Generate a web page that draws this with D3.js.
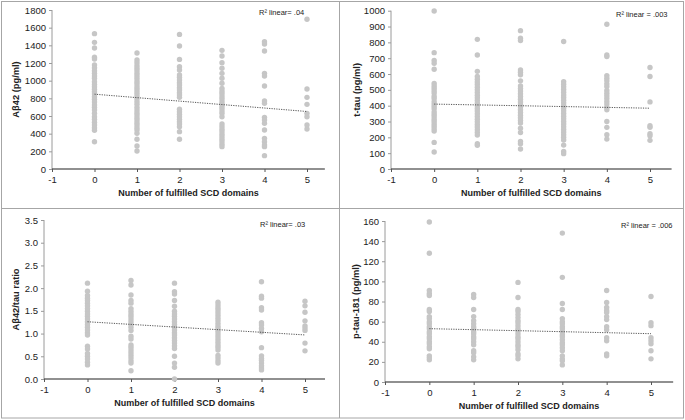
<!DOCTYPE html>
<html>
<head>
<meta charset="utf-8">
<script src="https://cdn.jsdelivr.net/npm/d3@7"></script>
<style>
  html, body { margin: 0; padding: 0; background: #fff; }
  svg { display: block; }
  text { font-family: "Liberation Sans", Arial, Helvetica, sans-serif; }
</style>
</head>
<body>
<svg id="chart" width="685" height="420"></svg>
<script>
// ---------------- DATA ----------------
const categories = [0, 1, 2, 3, 4, 5];
const xTicks = [-1, 0, 1, 2, 3, 4, 5];
const xLabel = "Number of fulfilled SCD domains";

const ab42 = [
  [1532, 1434, 1370, 1265, 1245, 1177, 1145, 1113, 1083, 1053, 1027, 988, 958, 932, 902, 875, 849, 819, 789, 758, 725, 698, 668, 630, 592, 562, 528, 498, 468, 438, 309],
  [1313, 1234, 1204, 1170, 1140, 1113, 1083, 1056, 1027, 996, 970, 940, 913, 887, 857, 826, 796, 762, 732, 698, 668, 638, 611, 581, 555, 524, 498, 468, 442, 404, 336, 260, 204],
  [1524, 1392, 1241, 1158, 1121, 1064, 1038, 1008, 977, 951, 920, 894, 864, 838, 811, 676, 649, 619, 592, 562, 536, 509, 479, 423, 336],
  [1343, 1279, 1204, 1140, 1083, 1027, 970, 913, 883, 857, 826, 800, 770, 743, 713, 687, 657, 630, 592, 509, 479, 449, 423, 392, 366, 336, 309, 279, 253],
  [1441, 1415, 1336, 1083, 1053, 940, 770, 743, 585, 555, 517, 442, 347, 309, 272, 253, 151],
  [1695, 906, 811, 732, 630, 592, 498, 453]
];
const ttau = [
  [998, 735, 685, 668, 630, 540, 525, 510, 495, 480, 460, 445, 425, 410, 395, 380, 360, 345, 330, 315, 300, 285, 270, 255, 240, 168, 107],
  [819, 720, 617, 584, 567, 550, 534, 517, 500, 483, 466, 450, 433, 416, 399, 382, 366, 349, 332, 315, 298, 281, 265, 248, 231, 214, 160, 150],
  [874, 826, 811, 626, 611, 595, 557, 525, 508, 492, 475, 458, 441, 424, 408, 391, 374, 357, 340, 324, 307, 290, 258, 231, 174, 160, 126],
  [805, 552, 536, 519, 502, 485, 468, 452, 435, 418, 401, 384, 368, 351, 334, 317, 300, 284, 267, 250, 233, 216, 200, 183, 151, 111, 97],
  [914, 720, 710, 590, 574, 557, 538, 521, 496, 479, 462, 445, 426, 410, 391, 374, 300, 263, 216, 189],
  [641, 584, 424, 273, 263, 223, 210, 181]
];
const ratio = [
  [2.11, 1.93, 1.84, 1.78, 1.73, 1.67, 1.61, 1.55, 1.49, 1.43, 1.38, 1.32, 1.26, 1.20, 1.14, 1.08, 1.02, 0.97, 0.72, 0.66, 0.56, 0.50, 0.44, 0.37, 0.31],
  [2.17, 2.07, 1.85, 1.73, 1.67, 1.55, 1.49, 1.43, 1.38, 1.32, 1.26, 1.20, 1.14, 1.07, 0.94, 0.88, 0.75, 0.70, 0.64, 0.58, 0.52, 0.46, 0.40, 0.35, 0.18],
  [2.11, 1.92, 1.87, 1.73, 1.60, 1.49, 1.43, 1.38, 1.32, 1.26, 1.20, 1.14, 1.08, 1.02, 0.97, 0.91, 0.85, 0.79, 0.73, 0.67, 0.50, 0.35, 0.26, 0.00],
  [1.69, 1.63, 1.57, 1.52, 1.46, 1.40, 1.34, 1.28, 1.22, 1.16, 1.11, 1.05, 0.99, 0.93, 0.87, 0.81, 0.75, 0.70, 0.64, 0.52, 0.46, 0.40, 0.35],
  [2.14, 1.82, 1.78, 1.57, 1.52, 1.24, 1.19, 1.11, 1.04, 0.69, 0.51, 0.45, 0.41, 0.35, 0.29, 0.24, 0.20],
  [1.71, 1.61, 1.47, 1.28, 1.17, 1.12, 1.07, 0.79, 0.62]
];
const ptau = [
  [159, 128, 91, 88, 86, 72, 70, 65, 63, 60, 58, 55, 53, 50, 48, 45, 43, 40, 38, 35, 33, 26, 24, 22],
  [87, 84, 72, 65, 61, 58, 55, 53, 50, 48, 45, 43, 40, 37, 31, 29, 25, 22],
  [99, 84, 72, 70, 67, 64, 61, 59, 56, 53, 51, 48, 45, 43, 40, 37, 35, 32, 28, 26, 23],
  [148, 104, 78, 72, 63, 60, 58, 55, 53, 50, 47, 45, 42, 39, 37, 34, 31, 26, 23, 21, 17],
  [91, 79, 74, 71, 69, 65, 62, 55, 52, 44, 41, 28, 26],
  [85, 59, 56, 44, 41, 38, 31, 23]
];

// fit line values at x = 0 and x = 5
const trendAb42 = [847, 651];
const trendTtau = [410, 384];
const trendRatio = [1.26, 0.97];
const trendPtau = [53, 48];

const yTicksAb42 = [0, 200, 400, 600, 800, 1000, 1200, 1400, 1600, 1800];
const yTicksTtau = [0, 100, 200, 300, 400, 500, 600, 700, 800, 900, 1000];
const yTicksRatio = [0, 0.5, 1.0, 1.5, 2.0, 2.5, 3.0, 3.5];
const yTicksPtau = [0, 20, 40, 60, 80, 100, 120, 140, 160];

const yLabels = ["A\u03b242 (pg/ml)", "t-tau (pg/ml)", "A\u03b242/tau ratio", "p-tau-181 (pg/ml)"];
const r2Labels = ["R\u00b2 linear= .04", "R\u00b2 linear = .003", "R\u00b2 linear= .03", "R\u00b2 linear = .006"];

// ---------------- LAYOUT ----------------
const panels = [
  { values: ab42, trend: trendAb42, ticks: yTicksAb42, fmt: d => String(d), ylab: yLabels[0], r2: r2Labels[0],
    x0: 52, x5: 307, xEnd: 5.42, yBottom: 169, yTop: 10, ylabX: 16, r2x: 259, r2y: 15 },
  { values: ttau, trend: trendTtau, ticks: yTicksTtau, fmt: d => String(d), ylab: yLabels[1], r2: r2Labels[1],
    x0: 391, x5: 650, xEnd: 5.5, yBottom: 169, yTop: 10.7, ylabX: 357, r2x: 616, r2y: 17 },
  { values: ratio, trend: trendRatio, ticks: yTicksRatio, fmt: d3.format(".1f"), ylab: yLabels[2], r2: r2Labels[2],
    x0: 44, x5: 305, xEnd: 5.46, yBottom: 379, yTop: 220, ylabX: 16, r2x: 260, r2y: 227 },
  { values: ptau, trend: trendPtau, ticks: yTicksPtau, fmt: d => String(d), ylab: yLabels[3], r2: r2Labels[3],
    x0: 385, x5: 651, xEnd: 5.5, yBottom: 382, yTop: 221, ylabX: 356, r2x: 621, r2y: 228 }
];

const svg = d3.select("#chart");

// frame lines
const frame = svg.append("g").attr("stroke", "#a6a6a6").attr("stroke-width", 1).attr("fill", "none");
frame.append("rect").attr("x", 1.5).attr("y", 1.5).attr("width", 682).attr("height", 416.5);
frame.append("line").attr("x1", 339.5).attr("x2", 339.5).attr("y1", 1.5).attr("y2", 418);
frame.append("line").attr("x1", 1.5).attr("x2", 683.5).attr("y1", 208.5).attr("y2", 208.5);

panels.forEach(p => {
  const g = svg.append("g");
  const x = d3.scaleLinear().domain([-1, 5]).range([p.x0, p.x5]);
  const yMax = p.ticks[p.ticks.length - 1];
  const y = d3.scaleLinear().domain([0, yMax]).range([p.yBottom, p.yTop]);
  const xEndPx = x(p.xEnd);

  // y axis
  const yAxis = d3.axisLeft(y).tickValues(p.ticks).tickFormat(p.fmt).tickSize(3).tickPadding(3);
  const ya = g.append("g").attr("transform", `translate(${p.x0},0)`).call(yAxis);
  ya.select(".domain").attr("stroke", "#9a9a9a").attr("d", `M-0,${p.yTop}V${p.yBottom}`);
  ya.selectAll(".tick line").attr("stroke", "#9a9a9a");
  ya.selectAll(".tick text").attr("font-size", 9.5).attr("fill", "#222")
    .attr("font-family", "'Liberation Sans', Arial, sans-serif");

  // x axis
  const xAxis = d3.axisBottom(x).tickValues(xTicks).tickFormat(d => String(d)).tickSize(3).tickPadding(4);
  const xa = g.append("g").attr("transform", `translate(0,${p.yBottom})`).call(xAxis);
  xa.select(".domain").attr("stroke", "#222").attr("stroke-width", 1.2).attr("d", `M${p.x0},0H${xEndPx}`);
  xa.selectAll(".tick line").attr("stroke", "#555");
  xa.selectAll(".tick text").attr("font-size", 9.5).attr("fill", "#222")
    .attr("font-family", "'Liberation Sans', Arial, sans-serif");

  // points
  const pts = [];
  p.values.forEach((col, i) => col.forEach(v => pts.push({ c: categories[i], v })));
  g.append("g").selectAll("circle").data(pts).join("circle")
    .attr("cx", d => x(d.c)).attr("cy", d => y(d.v)).attr("r", 2.7)
    .attr("fill", "#c6c6c6");

  // fit line
  g.append("line")
    .attr("x1", x(categories[0])).attr("y1", y(p.trend[0]))
    .attr("x2", x(categories[categories.length - 1])).attr("y2", y(p.trend[1]))
    .attr("stroke", "#555").attr("stroke-width", 1).attr("stroke-dasharray", "1.2,1.2");

  // x label
  g.append("text").attr("x", (p.x0 + xEndPx) / 2).attr("y", p.yBottom + 27)
    .attr("text-anchor", "middle").attr("font-size", 9).attr("font-weight", "bold").attr("fill", "#222")
    .text(xLabel);

  // y label
  g.append("text").attr("transform", `translate(${p.ylabX + 3},${(p.yTop + p.yBottom) / 2}) rotate(-90)`)
    .attr("text-anchor", "middle").attr("font-size", 9.3).attr("font-weight", "bold").attr("fill", "#222")
    .text(p.ylab);

  // R² label
  g.append("text").attr("x", p.r2x).attr("y", p.r2y)
    .attr("font-size", 7.5).attr("fill", "#222").text(p.r2);
});
</script>
</body>
</html>
